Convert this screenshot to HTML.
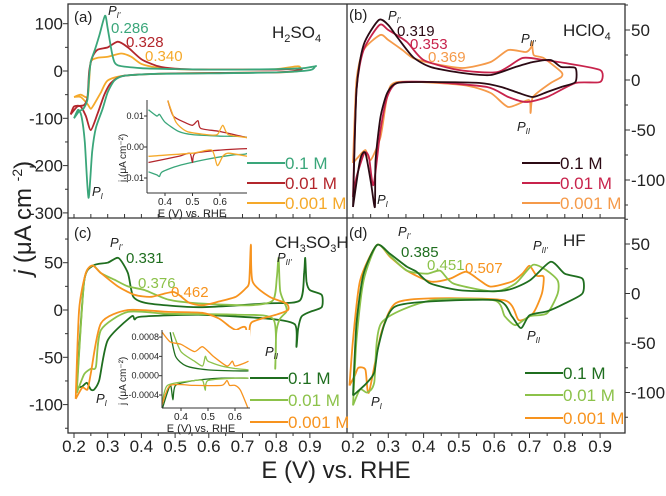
<!DOCTYPE html>
<html><head><meta charset="utf-8"><style>
body{margin:0;background:#fff}
svg{display:block;font-family:"Liberation Sans",sans-serif}
</style></head><body>
<svg id="chart" width="666" height="496" viewBox="0 0 666 496" xmlns="http://www.w3.org/2000/svg"></svg>
<script>
// ---------- data (E in V, j in µA cm^-2) ----------
const ticksLeftX=[0.2,0.3,0.4,0.5,0.6,0.7,0.8,0.9];
const ticksA=[100,0,-100,-200,-300];
const ticksB=[50,0,-50,-100];
const ticksC=[50,0,-50,-100];
const ticksD=[50,0,-50,-100];
const seriesNames=["0.1 M","0.01 M","0.001 M"];

// panel a (H2SO4)
const aGreenE=[0.2,0.215,0.228,0.24,0.245,0.25,0.262,0.275,0.292,0.3,0.315,0.33,0.4,0.5,0.6,0.7,0.8,0.88,0.916,0.916,0.9,0.8,0.6,0.45,0.35,0.32,0.3,0.285,0.265,0.254,0.243,0.232,0.222,0.212,0.2];
const aGreenJ=[-100,-85,-80,-60,-10,20,45,75,117,90,30,12,6,4,3,3,4,6,10,10,2,-3,-5,-6,-10,-20,-45,-80,-120,-170,-268,-150,-95,-82,-100];
const aRedE=[0.19,0.21,0.23,0.24,0.245,0.255,0.27,0.3,0.33,0.36,0.4,0.45,0.5,0.6,0.7,0.8,0.87,0.87,0.8,0.5,0.35,0.31,0.29,0.27,0.25,0.235,0.22,0.2,0.19];
const aRedJ=[-92,-75,-72,-55,0,30,45,50,62,50,25,10,5,3,3,3,5,2,-3,-5,-10,-25,-50,-90,-125,-95,-75,-75,-92];
const aOrangeE=[0.2,0.22,0.24,0.245,0.25,0.27,0.3,0.34,0.37,0.4,0.45,0.5,0.6,0.7,0.8,0.866,0.866,0.8,0.5,0.35,0.3,0.28,0.26,0.25,0.24,0.22,0.2];
const aOrangeJ=[-55,-50,-55,-20,20,28,30,37,30,15,7,4,3,3,4,10,0,-3,-5,-10,-20,-45,-70,-80,-70,-55,-55];
// inset a
const iaGreenE=[0.34,0.37,0.38,0.4,0.45,0.5,0.6,0.7,0.7,0.65,0.55,0.45,0.39,0.38,0.37,0.34];
const iaGreenJ=[0.012,0.010,0.0105,0.008,0.005,0.004,0.0035,0.003,-0.002,-0.0025,-0.004,-0.006,-0.008,-0.0095,-0.009,-0.008];
const iaRedE=[0.41,0.43,0.47,0.5,0.52,0.53,0.6,0.7];
const iaRedJ=[0.015,0.010,0.008,0.007,0.0085,0.006,0.005,0.003];
const iaRedLE=[0.34,0.45,0.49,0.5,0.51,0.6,0.7];
const iaRedLJ=[-0.005,-0.003,-0.002,-0.005,-0.002,-0.001,-0.0005];
const iaOrE=[0.41,0.44,0.48,0.55,0.59,0.61,0.63,0.7];
const iaOrJ=[0.015,0.008,0.005,0.004,0.004,0.007,0.004,0.003];
const iaOrLE=[0.34,0.5,0.57,0.59,0.61,0.63,0.7];
const iaOrLJ=[-0.003,-0.002,-0.001,-0.006,-0.003,-0.002,-0.003];

// panel b (HClO4)
const bBlackE=[0.2,0.21,0.23,0.273,0.3,0.325,0.37,0.42,0.51,0.59,0.66,0.71,0.76,0.79,0.83,0.83,0.79,0.75,0.71,0.67,0.62,0.56,0.42,0.325,0.297,0.278,0.264,0.262,0.251,0.235,0.22,0.2];
const bBlackJ=[-127,-10,35,60,55,43,23,13,7,5,13,18,20,13,12,-2,-7,-12,-17,-13,-7,-3,-2,-3,-13,-37,-80,-127,-103,-73,-80,-127];
const bRedE=[0.2,0.21,0.23,0.275,0.3,0.353,0.4,0.5,0.61,0.68,0.74,0.8,0.9,0.9,0.83,0.75,0.69,0.64,0.58,0.42,0.325,0.297,0.278,0.258,0.245,0.232,0.21,0.2];
const bRedJ=[-117,-10,30,55,50,38,20,10,8,22,20,17,10,-2,-3,-17,-22,-17,-7,-2,-3,-17,-50,-105,-77,-73,-97,-117];
const bOrE=[0.2,0.21,0.23,0.277,0.3,0.34,0.37,0.42,0.51,0.59,0.64,0.69,0.705,0.707,0.712,0.74,0.79,0.79,0.76,0.71,0.703,0.698,0.64,0.59,0.51,0.325,0.297,0.278,0.25,0.235,0.215,0.2];
const bOrJ=[-83,0,30,45,40,30,22,17,12,18,30,28,33,38,25,22,8,3,-3,-17,-33,-20,-27,-13,-5,-2,-17,-57,-80,-70,-77,-83];

// panel c (CH3SO3H)
const cDarkE=[0.208,0.23,0.257,0.3,0.332,0.36,0.376,0.42,0.57,0.77,0.87,0.883,0.886,0.89,0.9,0.935,0.935,0.9,0.875,0.865,0.86,0.855,0.77,0.57,0.4,0.38,0.37,0.3,0.275,0.26,0.25,0.238,0.224,0.208];
const cDarkJ=[-82,30,47,50,55,39,14,7,3,7,10,40,55,30,21,16,3,-2,-7,-20,-39,-15,-9,-5,-7,-10,-7,-32,-74,-84,-84,-77,-81,-82];
const cLightE=[0.208,0.23,0.255,0.28,0.32,0.36,0.41,0.48,0.57,0.72,0.79,0.802,0.807,0.812,0.83,0.83,0.81,0.8,0.797,0.792,0.68,0.48,0.36,0.28,0.265,0.25,0.23,0.208];
const cLightJ=[-88,30,47,39,32,25,21,11,7,5,10,35,55,20,3,-2,-10,-25,-62,-10,-5,-4,-2,-21,-60,-62,-68,-88];
const cOrE=[0.205,0.215,0.235,0.255,0.28,0.33,0.38,0.43,0.496,0.54,0.58,0.63,0.68,0.71,0.72,0.725,0.73,0.78,0.83,0.835,0.8,0.74,0.722,0.716,0.71,0.68,0.66,0.63,0.58,0.48,0.36,0.28,0.25,0.24,0.225,0.205];
const cOrJ=[-94,0,39,47,39,25,16,14,19,8,5,9,14,23,30,69,30,14,7,0,-5,-11,-17,-53,-19,-21,-17,-9,-3,-2,0,-14,-67,-84,-82,-94];
// inset c
const icDarkE=[0.36,0.38,0.42,0.5,0.6,0.65];
const icDarkJ=[0.0009,0.0004,0.0002,0.00012,0.0001,0.0001];
const icDarkLE=[0.33,0.36,0.37,0.38,0.45,0.55,0.65];
const icDarkLJ=[-0.0007,-0.0002,-0.0005,-0.0002,-0.0001,-0.00005,-0.00005];
const icLightE=[0.37,0.4,0.45,0.48,0.49,0.5,0.55,0.6,0.65];
const icLightJ=[0.0009,0.0005,0.0003,0.0002,0.0004,0.0003,0.0002,0.00015,0.00012];
const icLightLE=[0.33,0.35,0.45,0.48,0.49,0.5,0.6,0.65];
const icLightLJ=[-0.0006,-0.0002,-0.0001,-0.0001,-0.0003,-0.0001,-0.00005,-0.00005];
const icOrE=[0.33,0.36,0.4,0.45,0.48,0.52,0.57,0.59,0.6,0.63,0.65];
const icOrJ=[0.0009,0.0007,0.00065,0.0005,0.0006,0.0004,0.0002,0.0003,0.0002,0.00025,0.0003];
const icOrLE=[0.33,0.36,0.45,0.55,0.57,0.58,0.6,0.62,0.65];
const icOrLJ=[-0.0006,-0.0002,-0.0002,-0.0002,-0.0001,-0.0002,-0.0002,-0.0003,-0.0007];

// panel d (HF)
const dDarkE=[0.2,0.21,0.23,0.268,0.305,0.353,0.38,0.42,0.51,0.63,0.7,0.76,0.8,0.85,0.85,0.8,0.75,0.7,0.676,0.65,0.61,0.42,0.32,0.29,0.27,0.26,0.24,0.21,0.2];
const dDarkJ=[-103,-30,20,49,40,27,22,10,3,3,13,32,20,15,0,-10,-18,-22,-35,-23,-7,-8,-13,-30,-57,-80,-90,-100,-103];
const dLightE=[0.2,0.21,0.23,0.268,0.305,0.353,0.41,0.447,0.485,0.6,0.66,0.71,0.75,0.78,0.78,0.75,0.7,0.66,0.63,0.6,0.42,0.28,0.26,0.24,0.22,0.2];
const dLightJ=[-113,-47,13,49,38,23,20,23,10,2,10,29,23,13,0,-20,-23,-32,-23,-7,-7,-30,-90,-100,-97,-113];
const dOrE=[0.19,0.2,0.22,0.268,0.305,0.353,0.42,0.475,0.52,0.56,0.59,0.65,0.68,0.7,0.72,0.74,0.735,0.71,0.67,0.63,0.42,0.32,0.28,0.245,0.235,0.215,0.205,0.19];
const dOrJ=[-93,-47,13,49,37,23,12,15,22,13,7,12,20,28,18,17,0,-20,-27,-7,-5,-10,-40,-100,-77,-75,-83,-93];

// ---------- drawing ----------
const svg=document.getElementById('chart');
const NS='http://www.w3.org/2000/svg';
function el(tag,attrs,parent,text){const e=document.createElementNS(NS,tag);for(const k in attrs)e.setAttribute(k,attrs[k]);if(text!==undefined)e.textContent=text;(parent||svg).appendChild(e);return e;}

const panels={
 a:{x0:68,x1:347,y0:4,y1:218,ex:74,sx:337,jy:71,sy:0.473},
 b:{x0:347,x1:625,y0:4,y1:218,ex:353,sx:353,jy:80,sy:1.0},
 c:{x0:68,x1:347,y0:218,y1:433,ex:74,sx:337,jy:310,sy:0.946},
 d:{x0:347,x1:625,y0:218,y1:433,ex:353,sx:353,jy:293.5,sy:0.99}
};
function xS(p,E){return p.ex+(E-0.2)*p.sx;}
function yS(p,j){return p.jy-j*p.sy;}

const defs=el('defs',{});
for(const k in panels){const p=panels[k];const c=el('clipPath',{id:'clip'+k},defs);el('rect',{x:p.x0,y:p.y0,width:p.x1-p.x0,height:p.y1-p.y0},c);}

function smoothPath(P){
 let d='M'+P[0][0].toFixed(1)+','+P[0][1].toFixed(1);
 const t=0.7/6;
 for(let i=0;i<P.length-1;i++){
  const p0=P[Math.max(0,i-1)],p1=P[i],p2=P[i+1],p3=P[Math.min(P.length-1,i+2)];
  const c1=[p1[0]+(p2[0]-p0[0])*t,p1[1]+(p2[1]-p0[1])*t];
  const c2=[p2[0]-(p3[0]-p1[0])*t,p2[1]-(p3[1]-p1[1])*t];
  d+=' C'+c1[0].toFixed(1)+','+c1[1].toFixed(1)+' '+c2[0].toFixed(1)+','+c2[1].toFixed(1)+' '+p2[0].toFixed(1)+','+p2[1].toFixed(1);
 }
 return d;
}
function curve(p,key,E,J,color,name,xf,yf){
 const P=E.map((e,i)=>[xf?xf(e):xS(p,e),yf?yf(J[i]):yS(p,J[i])]);
 const attrs={d:smoothPath(P),fill:'none',stroke:color,'stroke-width':1.8,'stroke-linejoin':'round'};
 if(key)attrs['clip-path']='url(#clip'+key+')';
 const pl=el('path',attrs);
 
 
 return pl;
}

// frames
el('rect',{x:68,y:4,width:557,height:429,fill:'none',stroke:'#333','stroke-width':1.3});
el('line',{x1:347,y1:4,x2:347,y2:433,stroke:'#333','stroke-width':1.3});
el('line',{x1:68,y1:218,x2:625,y2:218,stroke:'#333','stroke-width':1.3});

['c','d'].forEach(k=>{const p=panels[k];
 for(let v=0.2;v<=0.95;v+=0.05){const x=xS(p,v);if(x>p.x1)break;const major=Math.abs(Math.round(v*10)-v*10)<0.01;
  el('line',{x1:x,y1:433,x2:x,y2:433+(major?5:3),stroke:'#333','stroke-width':1});}
 ticksLeftX.forEach(v=>{const t=el('text',{x:xS(p,v),y:452,'font-size':17,'text-anchor':'middle',fill:'#222'},svg,v.toFixed(1));
  });
});
['a','b'].forEach(k=>{const p=panels[k];for(let v=0.2;v<=0.95;v+=0.05){const x=xS(p,v);if(x>p.x1)break;el('line',{x1:x,y1:218,x2:x,y2:214,stroke:'#333','stroke-width':1});}});

function yTicks(p,ticks,side,minorStep){
 const min=Math.min(...ticks)-minorStep*2,max=Math.max(...ticks)+minorStep*2;
 for(let v=Math.ceil(min/minorStep)*minorStep;v<=max;v+=minorStep){const y=yS(p,v);if(y<p.y0||y>p.y1)continue;
  const major=ticks.includes(Math.round(v));
  const len=major?5:3;
  if(side==='left')el('line',{x1:p.x0,y1:y,x2:p.x0-len,y2:y,stroke:'#333','stroke-width':1});
  else el('line',{x1:p.x1,y1:y,x2:p.x1+len,y2:y,stroke:'#333','stroke-width':1});}
 ticks.forEach(v=>{const y=yS(p,v);
  const t=side==='left'?el('text',{x:63,y:y+6,'font-size':17,'text-anchor':'end',fill:'#222'},svg,String(v)):el('text',{x:631,y:y+6,'font-size':17,'text-anchor':'start',fill:'#222'},svg,String(v));
  });
}
yTicks(panels.a,ticksA,'left',50);
yTicks(panels.b,ticksB,'right',25);
yTicks(panels.c,ticksC,'left',25);
yTicks(panels.d,ticksD,'right',25);

const cA=['#3aa67a','#b3262c','#f5a92a'];
const cB=['#2b0a14','#c8234c','#f59a4a'];
const cC=['#1f6e1f','#8cc24a','#f7931e'];

curve(panels.a,'a',aOrangeE,aOrangeJ,cA[2],'a-curve-0.001M');
curve(panels.a,'a',aRedE,aRedJ,cA[1],'a-curve-0.01M');
curve(panels.a,'a',aGreenE,aGreenJ,cA[0],'a-curve-0.1M');
curve(panels.b,'b',bOrE,bOrJ,cB[2],'b-curve-0.001M');
curve(panels.b,'b',bRedE,bRedJ,cB[1],'b-curve-0.01M');
curve(panels.b,'b',bBlackE,bBlackJ,cB[0],'b-curve-0.1M');
curve(panels.c,'c',cDarkE,cDarkJ,cC[0],'c-curve-0.1M');
curve(panels.c,'c',cLightE,cLightJ,cC[1],'c-curve-0.01M');
curve(panels.c,'c',cOrE,cOrJ,cC[2],'c-curve-0.001M');
curve(panels.d,'d',dOrE,dOrJ,cC[2],'d-curve-0.001M');
curve(panels.d,'d',dLightE,dLightJ,cC[1],'d-curve-0.01M');
curve(panels.d,'d',dDarkE,dDarkJ,cC[0],'d-curve-0.1M');

function inset(box,xt,yt,ex,sx,jy,sy,series,lbls,name){
 const g=el('g',{});
 el('rect',{x:box[0],y:box[1],width:box[2]-box[0],height:box[3]-box[1],fill:'#fff',stroke:'none'},g);
 const id='clip'+name;const c=el('clipPath',{id:id},defs);el('rect',{x:box[0],y:box[1],width:box[2]-box[0],height:box[3]-box[1]},c);
 const xf=E=>ex+(E-0.4)*sx, yf=j=>jy-j*sy;
 series.forEach(s=>{const pl=curve(null,null,s[0],s[1],s[2],s[3],xf,yf);pl.setAttribute('clip-path','url(#'+id+')');pl.setAttribute('stroke-width',1.3);g.appendChild(pl);});
 el('line',{x1:box[0],y1:box[1],x2:box[0],y2:box[3],stroke:'#333','stroke-width':1},g);
 el('line',{x1:box[0],y1:box[3],x2:box[2],y2:box[3],stroke:'#333','stroke-width':1},g);
 xt.forEach(v=>{el('line',{x1:xf(v),y1:box[3],x2:xf(v),y2:box[3]+3,stroke:'#333'},g);el('text',{x:xf(v),y:box[3]+12,'font-size':10,'text-anchor':'middle',fill:'#222'},g,v.toFixed(1));});
 yt.forEach((v,i)=>{el('line',{x1:box[0],y1:yf(v),x2:box[0]-3,y2:yf(v),stroke:'#333'},g);el('text',{x:box[0]-3,y:yf(v)+3,'font-size':9,'text-anchor':'end',fill:'#222'},g,lbls[i]);});
 el('text',{x:(box[0]+box[2])/2-5,y:box[3]+24,'font-size':11,'text-anchor':'middle',fill:'#222'},g,'E (V) vs. RHE');
 return g;
}
inset([147,100,247,193],[0.4,0.5,0.6],[0.01,0,-0.01],165,275,147,3100,
 [[iaGreenE,iaGreenJ,cA[0],'inset-a-0.1M'],[iaRedE,iaRedJ,cA[1],'inset-a-0.01M-up'],[iaRedLE,iaRedLJ,cA[1],'inset-a-0.01M-down'],[iaOrE,iaOrJ,cA[2],'inset-a-0.001M-up'],[iaOrLE,iaOrLJ,cA[2],'inset-a-0.001M-down']],
 ['0.01','0.00','-0.01'],'inset-a');
el('text',{x:0,y:0,'font-size':10,fill:'#222',transform:'translate(126,182) rotate(-90)'},svg,'j (μA cm⁻²)');
inset([162,330,250,408],[0.4,0.5,0.6],[0.0008,0.0004,0,-0.0004],181,270,375.7,48300,
 [[icDarkE,icDarkJ,cC[0],'inset-c-0.1M-up'],[icDarkLE,icDarkLJ,cC[0],'inset-c-0.1M-down'],[icLightE,icLightJ,cC[1],'inset-c-0.01M-up'],[icLightLE,icLightLJ,cC[1],'inset-c-0.01M-down'],[icOrE,icOrJ,cC[2],'inset-c-0.001M-up'],[icOrLE,icOrLJ,cC[2],'inset-c-0.001M-down']],
 ['0.0008','0.0004','0.0000','-0.0004'],'inset-c');
el('text',{x:0,y:0,'font-size':10,fill:'#222',transform:'translate(126,405) rotate(-90)'},svg,'j (μA cm⁻²)');

function legend(x,ys,colors,name){ys.forEach((y,i)=>{
 const g=el('g',{});
 el('line',{x1:x,y1:y,x2:x+38,y2:y,stroke:colors[i],'stroke-width':2},g);
 el('text',{x:x+38,y:y+6,'font-size':17,fill:colors[i]},g,seriesNames[i]);});}
legend(247,[163,183,203],cA,'legend-a');
legend(522,[163,183,203],cB,'legend-b');
legend(250,[378,400,422],cC,'legend-c');
legend(525,[373,395,418],cC,'legend-d');

function txt(x,y,s,size,color,name,extra){const t=el('text',Object.assign({x:x,y:y,'font-size':size,fill:color},extra||{}),svg);t.innerHTML=s;return t;}
txt(74,22,'(a)',15,'#222','panel-a-label');txt(349,20,'(b)',15,'#222','panel-b-label');
txt(74,238,'(c)',15,'#222','panel-c-label');txt(349,238,'(d)',15,'#222','panel-d-label');
txt(272,38,'H<tspan font-size="11" dy="4">2</tspan><tspan dy="-4">SO</tspan><tspan font-size="11" dy="4">4</tspan>',17,'#222','title-h2so4');
txt(563,36,'HClO<tspan font-size="11" dy="4">4</tspan>',17,'#222','title-hclo4');
txt(275,248,'CH<tspan font-size="11" dy="4">3</tspan><tspan dy="-4">SO</tspan><tspan font-size="11" dy="4">3</tspan><tspan dy="-4">H</tspan>',17,'#222','title-ch3so3h');
txt(563,246,'HF',17,'#222','title-hf');
const it={'font-style':'italic'};
function P(x,y,sub,name){txt(x,y,'P<tspan font-size="8" dy="3">'+sub+'</tspan>',13,'#222',name,it);}
P(108,15,"I'",'a-peak-Pr');P(92,196,'I','a-peak-PI');
P(388,20,"I'",'b-peak-Pr');P(521,43,"II'",'b-peak-PII-prime');P(517,131,'II','b-peak-PII');P(377,204,'I','b-peak-PI');
P(110,247,"I'",'c-peak-Pr');P(277,262,"II'",'c-peak-PII-prime');P(265,356,'II','c-peak-PII');P(96,403,'I','c-peak-PI');
P(398,236,"I'",'d-peak-Pr');P(533,250,"II'",'d-peak-PII-prime');P(527,340,'II','d-peak-PII');P(371,406,'I','d-peak-PI');
txt(111,33,'0.286',15,cA[0],'a-val-0.286');txt(126,47,'0.328',15,cA[1],'a-val-0.328');txt(145,61,'0.340',15,cA[2],'a-val-0.340');
txt(397,36,'0.319',15,cB[0],'b-val-0.319');txt(410,49,'0.353',15,cB[1],'b-val-0.353');txt(428,62,'0.369',15,cB[2],'b-val-0.369');
txt(126,263,'0.331',15,cC[0],'c-val-0.331');txt(138,288,'0.376',15,cC[1],'c-val-0.376');txt(171,297,'0.462',15,cC[2],'c-val-0.462');
txt(401,257,'0.385',15,cC[0],'d-val-0.385');txt(427,270,'0.451',15,cC[1],'d-val-0.451');txt(465,273,'0.507',15,cC[2],'d-val-0.507');

txt(336,478,'E (V) vs. RHE',24,'#222','x-axis-title',{'text-anchor':'middle'});
txt(0,0,'<tspan font-style="italic">j</tspan> (μA cm <tspan font-size="14" dy="-9">-2</tspan><tspan dy="9">)</tspan>',24,'#222','y-axis-title',{'text-anchor':'middle',transform:'translate(31,218) rotate(-90)'});
</script>
</body></html>
